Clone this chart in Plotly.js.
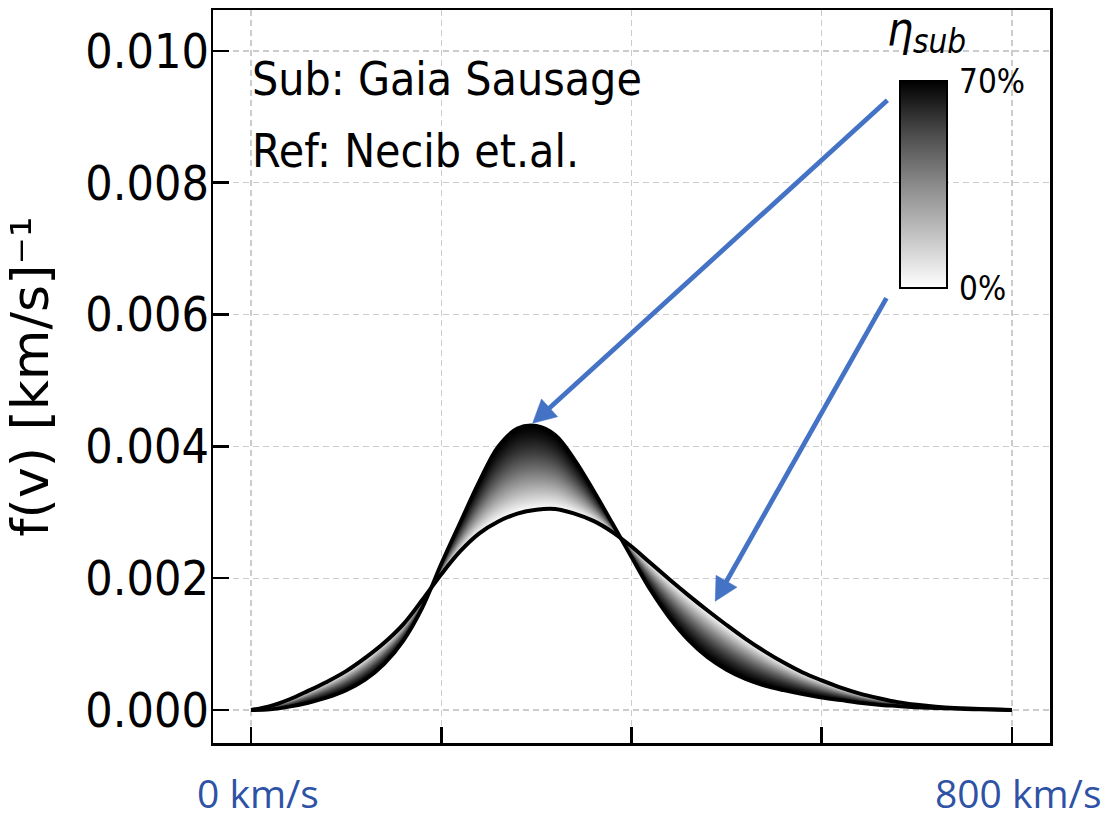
<!DOCTYPE html>
<html>
<head>
<meta charset="utf-8">
<script src="https://cdn.plot.ly/plotly-3.0.1.min.js"></script>
<style>
  html, body { margin: 0; padding: 0; background: #ffffff; }
  #chart { width: 1117px; height: 819px; }
</style>
</head>
<body>
<div id="chart"></div>
<script>
// Speed grid, km/s
const speeds = [
  0, 20, 40, 60, 80, 100, 120, 140, 160, 180,
  200, 220, 240, 260, 280, 300, 320, 340, 360, 380,
  400, 420, 440, 460, 480, 500, 520, 540, 560, 580,
  600, 620, 640, 660, 680, 700, 720, 740, 760, 780, 800
];

// Speed distribution with no substructure (eta_sub = 0%)
const fHalo = [
  0.00000, 0.00006, 0.00016, 0.00029, 0.00043, 0.00059, 0.00079, 0.00102, 0.00130, 0.00167,
  0.00206, 0.00241, 0.00268, 0.00286, 0.00298, 0.00304, 0.00305, 0.00298, 0.00287, 0.00270,
  0.00248, 0.00223, 0.00198, 0.00174, 0.00151, 0.00129, 0.00108, 0.00089, 0.00072, 0.00057,
  0.00045, 0.00034, 0.00025, 0.00018, 0.00012, 0.00008, 0.00005, 0.00003, 0.00002, 0.00001, 0.00000
];

// Speed distribution with the Gaia Sausage at eta_sub = 70%
const fSub70 = [
  0.00000, 0.00001, 0.00005, 0.00011, 0.00019, 0.00030, 0.00046, 0.00070, 0.00105, 0.00155,
  0.00222, 0.00285, 0.00347, 0.00400, 0.00427, 0.00431, 0.00417, 0.00380, 0.00333, 0.00283,
  0.00232, 0.00182, 0.00140, 0.00106, 0.00080, 0.00061, 0.00047, 0.00037, 0.00030, 0.00024,
  0.00019, 0.00015, 0.00011, 0.00008, 0.00006, 0.00004, 0.00003, 0.00002, 0.00001, 0.00001, 0.00000
];

// Substructure fraction scale
const etaRange = [0, 70];
const etaTickVals = [0, 70];
const etaTickText = ['0%', '70%'];

// Y tick values
const yTicks = [0, 0.002, 0.004, 0.006, 0.008, 0.010];

// Pointer arrows: tail [speed, f] -> head tip [speed, f]
const pointerPeak = { from: [669, 0.00925], to: [296, 0.00435] };
const pointerTail = { from: [668, 0.00625], to: [488, 0.00165] };

const condensed = 'DejaVu Sans Condensed, DejaVu Sans, sans-serif';
const blueText = '#2E52A6';
const arrowBlue = '#4472C4';

// Axis geometry (used to shape arrow heads in screen pixels)
const xRange = [-40, 840];
const yRange = [-0.0005, 0.01062];
const plotW = 837, plotH = 733;
const pxPerX = plotW / (xRange[1] - xRange[0]);
const pxPerY = plotH / (yRange[1] - yRange[0]);

// Mixture between the two distributions at fraction t of the eta range
function mixAt(t) {
  return fHalo.map((h, i) => h + t * (fSub70[i] - h));
}

const traces = [];
const nBands = 70;
const backSpeeds = speeds.slice().reverse();
const backSub = fSub70.slice().reverse();
// Each band spans from eta_k up to the 70% curve; darker bands are laid on top
for (let k = 0; k < nBands; k++) {
  const lower = mixAt(k / nBands);
  const t = (k + 0.5) / nBands;
  const g = Math.round(255 * Math.pow(1 - t, 1.25));
  traces.push({
    type: 'scatter', mode: 'lines',
    x: speeds.concat(backSpeeds),
    y: lower.concat(backSub),
    fill: 'toself',
    fillcolor: `rgb(${g},${g},${g})`,
    line: { width: 0, shape: 'spline', smoothing: 1 },
    hoverinfo: 'skip', showlegend: false
  });
}

// Boundary curves
traces.push({
  type: 'scatter', mode: 'lines', x: speeds, y: fHalo,
  line: { color: '#000000', width: 4, shape: 'spline', smoothing: 1 },
  hoverinfo: 'skip', showlegend: false
});
traces.push({
  type: 'scatter', mode: 'lines', x: speeds, y: fSub70,
  line: { color: '#000000', width: 3.8, shape: 'spline', smoothing: 1 },
  hoverinfo: 'skip', showlegend: false
});

// Blue pointer arrows: shaft plus a filled triangular head
function addPointer(p) {
  const headLen = 23, headHalf = 12;
  const dxp = (p.to[0] - p.from[0]) * pxPerX;
  const dyp = (p.to[1] - p.from[1]) * pxPerY;
  const d = Math.hypot(dxp, dyp);
  const ux = dxp / d, uy = dyp / d;
  const toData = (px, py) => [p.to[0] + px / pxPerX, p.to[1] + py / pxPerY];
  const base = toData(-ux * headLen, -uy * headLen);
  const c1 = toData(-ux * headLen - uy * headHalf, -uy * headLen + ux * headHalf);
  const c2 = toData(-ux * headLen + uy * headHalf, -uy * headLen - ux * headHalf);
  traces.push({
    type: 'scatter', mode: 'lines',
    x: [p.from[0], base[0] + (p.to[0] - base[0]) * 0.2],
    y: [p.from[1], base[1] + (p.to[1] - base[1]) * 0.2],
    line: { color: arrowBlue, width: 4.8 },
    cliponaxis: false, hoverinfo: 'skip', showlegend: false
  });
  traces.push({
    type: 'scatter', mode: 'lines',
    x: [p.to[0], c1[0], c2[0], p.to[0]],
    y: [p.to[1], c1[1], c2[1], p.to[1]],
    fill: 'toself', fillcolor: arrowBlue,
    line: { color: arrowBlue, width: 0.5 },
    cliponaxis: false, hoverinfo: 'skip', showlegend: false
  });
}
addPointer(pointerPeak);
addPointer(pointerTail);

// Colour scale for eta_sub
traces.push({
  type: 'scatter', mode: 'markers',
  x: [-200], y: [0],
  marker: {
    color: [etaRange[0]], cmin: etaRange[0], cmax: etaRange[1],
    colorscale: [[0, '#ffffff'], [0.25, '#c4c4c4'], [0.5, '#8a8a8a'], [0.75, '#4a4a4a'], [1, '#000000']],
    showscale: true,
    colorbar: {
      xref: 'paper', x: (900 - 213) / 837, xanchor: 'left', xpad: 0,
      yref: 'paper', y: 1 - (81 - 10) / 733, yanchor: 'top', ypad: 0,
      len: 207, lenmode: 'pixels',
      thickness: 47, thicknessmode: 'pixels',
      outlinewidth: 2, outlinecolor: '#000000',
      tickvals: etaTickVals, ticktext: etaTickText,
      ticks: 'outside', ticklen: 5, tickcolor: 'rgba(0,0,0,0)',
      tickfont: { family: condensed, size: 33, color: '#000000' }
    }
  },
  hoverinfo: 'skip', showlegend: false
});

const layout = {
  width: 1117, height: 819,
  margin: { l: 213, r: 67, t: 10, b: 76 },
  paper_bgcolor: '#ffffff', plot_bgcolor: '#ffffff',
  showlegend: false,
  xaxis: {
    range: xRange, tick0: 0, dtick: 200,
    showticklabels: false,
    ticks: 'inside', ticklen: 16, tickwidth: 2.5, tickcolor: '#000000',
    showline: true, linecolor: '#000000', linewidth: 2.5, mirror: true,
    showgrid: true, gridcolor: '#cccccc', gridwidth: 1.3, griddash: '6px,4px',
    zeroline: false, fixedrange: true
  },
  yaxis: {
    range: yRange,
    tickvals: yTicks, tickformat: '.3f',
    ticks: 'inside', ticklen: 16, tickwidth: 2.5, tickcolor: '#000000',
    ticklabelstandoff: -8,
    tickfont: { family: condensed, size: 48, color: '#000000' },
    showline: true, linecolor: '#000000', linewidth: 2.5, mirror: true,
    showgrid: true, gridcolor: '#cccccc', gridwidth: 1.3, griddash: '6px,4px',
    zeroline: false, fixedrange: true,
    title: {
      text: 'f(v) [km/s]\u207b\u00b9',
      font: { family: 'DejaVu Sans, sans-serif', size: 52, color: '#000000' },
      standoff: 30
    }
  },
  annotations: [
    {
      xref: 'paper', yref: 'paper', x: (250 - 213) / 837, y: 1 - (79 - 10) / 733,
      xanchor: 'left', yanchor: 'middle', showarrow: false,
      text: 'Sub: Gaia Sausage',
      font: { family: condensed, size: 46, color: '#000000' }
    },
    {
      xref: 'paper', yref: 'paper', x: (250 - 213) / 837, y: 1 - (151 - 10) / 733,
      xanchor: 'left', yanchor: 'middle', showarrow: false,
      text: 'Ref: Necib et.al.',
      font: { family: condensed, size: 46, color: '#000000' }
    },
    {
      xref: 'paper', yref: 'paper', x: (900 - 213) / 837, y: 1 - (29 - 10) / 733,
      xanchor: 'center', yanchor: 'middle', showarrow: false,
      text: '\u03b7',
      font: { family: condensed, size: 46, style: 'italic', color: '#000000' }
    },
    {
      xref: 'paper', yref: 'paper', x: (911 - 213) / 837, y: 1 - (41 - 10) / 733,
      xanchor: 'left', yanchor: 'middle', showarrow: false,
      text: 'sub',
      font: { family: condensed, size: 33, style: 'italic', color: '#000000' }
    },
    {
      xref: 'paper', yref: 'paper', x: (195 - 213) / 837, y: 1 - (792 - 10) / 733,
      xanchor: 'left', yanchor: 'middle', showarrow: false,
      text: '0 km/s',
      font: { family: 'Open Sans, sans-serif', size: 39, color: blueText }
    },
    {
      xref: 'paper', yref: 'paper', x: (933 - 213) / 837, y: 1 - (792 - 10) / 733,
      xanchor: 'left', yanchor: 'middle', showarrow: false,
      text: '800 km/s',
      font: { family: 'Open Sans, sans-serif', size: 39, color: blueText }
    }
  ]
};

Plotly.newPlot('chart', traces, layout, { displayModeBar: false, staticPlot: true });
</script>
</body>
</html>
